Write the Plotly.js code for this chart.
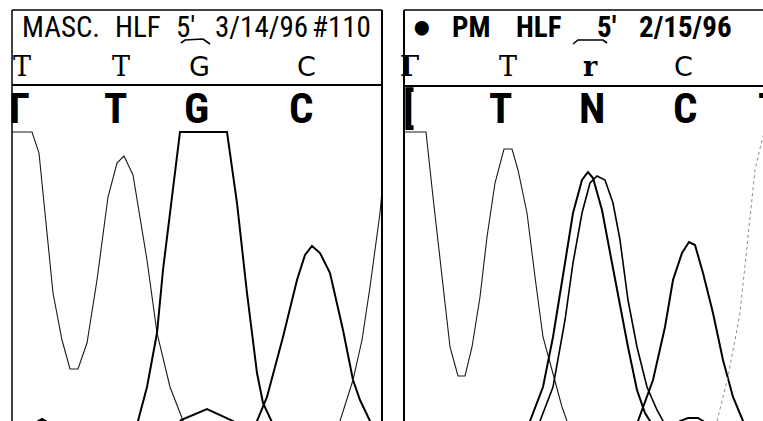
<!DOCTYPE html>
<html><head><meta charset="utf-8">
<script src="https://cdn.plot.ly/plotly-3.0.1.min.js"></script>
<style>html,body{margin:0;padding:0;background:#fff;overflow:hidden}#chart{width:763px;height:421px}</style>
</head><body><div id="chart"></div>
<script>
// ---------- LEFT PANEL: "MASC. HLF 5' 3/14/96 #110" ----------
const leftTitle = ["MASC.", "HLF", "5'", "3/14/96", "#110"];
const leftCalls = ["T", "T", "G", "C"];
const leftCallScan = [10, 109, 187, 294];
const leftBoldCalls = ["Γ", "T", "G", "C"];
const leftBoldScan = [7, 103, 184, 289];

// signal traces (scan, intensity)
const lT1_x = [0, 20, 27, 41, 50, 58, 66, 75, 85, 96, 105, 112, 121, 135, 145, 158, 170, 178];
const lT1_y = [289, 289, 268, 128, 81, 52, 52, 78, 141, 224, 258, 265, 246, 161, 88, 34, 3, -14];
const lG_x = [124, 126, 135, 145, 151, 160, 168, 215, 225, 235, 245, 251, 260, 266];
const lG_y = [-19, 0, 34, 88, 151, 224, 289, 289, 218, 128, 48, 18, 0, -14];
const lA_x = [164, 169, 195, 221, 228];
const lA_y = [-9, 1, 12, 0, -7];
const lA0_x = [23, 30, 37];
const lA0_y = [-2, 2, -2];
const lC_x = [238, 245, 255, 271, 285, 293, 300, 308, 318, 331, 341, 348, 358, 363];
const lC_y = [-19, 0, 24, 84, 141, 166, 175, 168, 148, 91, 41, 21, 0, -9];
const lT2_x = [320, 328, 341, 350, 358, 368, 371, 378];
const lT2_y = [-19, 0, 41, 81, 134, 208, 241, 281];

// ---------- RIGHT PANEL: "• PM HLF 5' 2/15/96" ----------
const rightTitle = ["•", "PM", "HLF", "5'", "2/15/96"];
const rightCalls = ["Γ", "T", "r", "C"];
const rightCallScan = [5, 104, 186, 279];
const rightBoldCalls = ["[", "T", "N", "C", "T"];
const rightBoldScan = [4, 96, 188, 281, 352];

const rT1_x = [0, 22, 29, 38, 46, 54, 61, 68, 76, 83, 91, 100, 108, 114, 123, 131, 139, 148, 158, 163, 168];
const rT1_y = [289, 289, 224, 144, 74, 45, 45, 74, 124, 184, 238, 272, 272, 251, 208, 144, 84, 51, 14, 0, -11];
const rNa_x = [121, 126, 139, 149, 161, 169, 178, 184, 189, 198, 208, 216, 224, 233, 241, 246, 251];
const rNa_y = [-14, 0, 34, 84, 158, 208, 241, 249, 243, 211, 158, 114, 74, 31, 8, 0, -9];
const rNb_x = [131, 136, 149, 161, 169, 178, 186, 193, 201, 209, 216, 224, 233, 243, 253, 259, 264];
const rNb_y = [-14, 0, 34, 101, 158, 208, 238, 245, 241, 218, 181, 121, 74, 34, 11, 0, -9];
const rC_x = [229, 234, 249, 261, 269, 278, 285, 291, 299, 309, 319, 329, 339, 344];
const rC_y = [-11, 0, 41, 94, 141, 168, 179, 176, 148, 108, 61, 24, 0, -9];
const rA_x = [272, 276, 284, 294, 299, 303];
const rA_y = [-5, 0, 3, 3, 0, -5];
const rT2_x = [308, 313, 324, 336, 344, 351, 358, 364];
const rT2_y = [-11, 0, 44, 108, 184, 251, 281, 301];

// ---------- build ----------
const W = 763, H = 421;
const thin = {color: '#1a1a1a', width: 1.1};
const thick = {color: '#000', width: 2};
const dotted = {color: '#8a8a8a', width: 1, dash: 'dot'};
function tr(x, y, line, xa) {
  return {x: x, y: y, type: 'scatter', mode: 'lines', line: line, xaxis: xa, yaxis: 'y',
          hoverinfo: 'skip', showlegend: false};
}
const data = [
  tr(lT1_x, lT1_y, thin, 'x'),
  tr(lG_x, lG_y, thick, 'x'),
  tr(lA_x, lA_y, thick, 'x'),
  tr(lA0_x, lA0_y, thick, 'x'),
  tr(lC_x, lC_y, thick, 'x'),
  tr(lT2_x, lT2_y, thin, 'x'),
  tr(rT1_x, rT1_y, thin, 'x2'),
  tr(rNa_x, rNa_y, thick, 'x2'),
  tr(rNb_x, rNb_y, Object.assign({}, thick, {width: 1.6}), 'x2'),
  tr(rC_x, rC_y, thick, 'x2'),
  tr(rA_x, rA_y, thick, 'x2'),
  tr(rT2_x, rT2_y, dotted, 'x2')
];

const px = v => v / W, py = v => 1 - v / H;
const ann = [];
function titleAnn(text, xPx, font, yPx) {
  ann.push({text: text, xref: 'paper', yref: 'paper', x: px(xPx), y: py(yPx || 27), xanchor: 'left', yanchor: 'middle',
            showarrow: false, font: font, borderpad: 0});
}
const tFontL = {family: 'Roboto Condensed', size: 29, color: '#000'};
const tFontR = {family: 'Roboto Condensed', size: 29, color: '#000', weight: 'bold'};
const bulletFont = {family: 'DejaVu Sans', size: 40, color: '#000', weight: 'bold'};
const leftTitleX = [21, 114, 175, 214, 311];
leftTitle.forEach((t, i) => titleAnn(t, leftTitleX[i], tFontL));
const rightTitleX = [408, 451, 515, 596, 638];
rightTitle.forEach((t, i) => titleAnn(t, rightTitleX[i], i === 0 ? bulletFont : tFontR, i === 0 ? 29 : 27));

const serifCall = {family: 'DejaVu Serif', size: 27, color: '#000'};
const sansCall = {family: 'DejaVu Sans', size: 27, color: '#000'};
const boldFont = {family: 'Roboto Condensed', size: 43, color: '#000', weight: 'bold'};
function callAnn(text, xref, x, yPx, font, anchor) {
  ann.push({text: text, xref: xref, yref: 'paper', x: x, y: py(yPx), xanchor: anchor || 'center', yanchor: 'middle',
            showarrow: false, font: font});
}
const serifLetters = ['T', 'Γ', 'r'];
function callFont(t) { return serifLetters.indexOf(t) >= 0 ? serifCall : sansCall; }
leftCalls.forEach((t, i) => callAnn(t, 'x', leftCallScan[i], 67, callFont(t)));
leftBoldCalls.forEach((t, i) => callAnn('<b>' + t + '</b>', 'x', leftBoldScan[i], 108, boldFont));
rightCalls.forEach((t, i) => callAnn((t === 'r' || t === 'Γ') ? '<b>' + t + '</b>' : t, 'x2', rightCallScan[i], 67, callFont(t)));
rightBoldCalls.forEach((t, i) => callAnn('<b>' + t + '</b>', 'x2', rightBoldScan[i], 108, boldFont, i === 4 ? 'left' : 'center'));

function seg(x0, y0, x1, y1, w) {
  return {type: 'line', xref: 'paper', yref: 'paper', x0: px(x0), y0: py(y0), x1: px(x1), y1: py(y1),
          line: {color: '#000', width: w || 1.5}};
}
function path(pts) {
  const d = pts.map((p, i) => (i ? 'L' : 'M') + px(p[0]) + ',' + py(p[1])).join(' ');
  return {type: 'path', xref: 'paper', yref: 'paper', path: d, line: {color: '#000', width: 1.6}};
}
const shapes = [
  seg(12, 10, 382, 10), seg(12, 10, 12, 421), seg(382, 10, 382, 421, 2), seg(12, 85, 383, 85, 2),
  seg(404, 10, 763, 10), seg(404, 10, 404, 421, 2), seg(404, 86, 763, 86, 2),
  path([[181, 43], [185, 40], [203, 39], [210, 44]]),
  path([[573, 44], [578, 40], [603, 40], [607, 43]])
];

const axBase = {showgrid: false, zeroline: false, showticklabels: false, ticks: '', showline: false, fixedrange: true};
const layout = {
  width: W, height: H, margin: {l: 0, r: 0, t: 0, b: 0},
  paper_bgcolor: '#fff', plot_bgcolor: '#fff', showlegend: false,
  xaxis: Object.assign({}, axBase, {domain: [12 / W, 382 / W], range: [0, 370]}),
  xaxis2: Object.assign({}, axBase, {domain: [404 / W, 1], range: [0, 359]}),
  yaxis: Object.assign({}, axBase, {domain: [0, 1], range: [0, 421]}),
  annotations: ann, shapes: shapes
};
Plotly.newPlot('chart', data, layout, {displayModeBar: false, staticPlot: true});
</script></body></html>
